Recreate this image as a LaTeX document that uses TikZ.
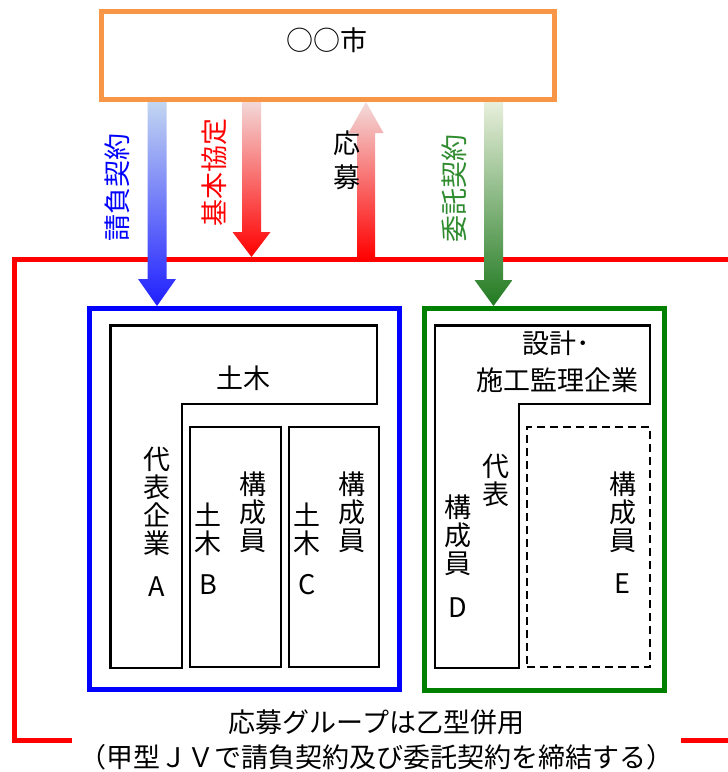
\documentclass[tikz,border=0pt]{standalone}
\usepackage{fontspec}
\setmainfont{Noto Sans CJK JP}
\usetikzlibrary{calc}
\definecolor{orangeC}{HTML}{F79646}
\definecolor{blueC}{HTML}{0000FF}
\definecolor{greenC}{HTML}{008000}
\definecolor{greenT}{HTML}{2E8B2E}
\definecolor{redC}{HTML}{FF0000}
\definecolor{blueTop}{HTML}{C5D9F1}
\definecolor{blueBot}{HTML}{1F1FFF}
\definecolor{redTop}{HTML}{F2DCDB}
\definecolor{greenTop}{HTML}{EBF1DE}
\definecolor{greenBot}{HTML}{217A21}
\newcommand\blkdown[4]{%
  \path[#4] ($(#1)+(-9.5,0)$) -- ($(#2)+(-9.5,-#3)$) -- ($(#2)+(-19,-#3)$) -- (#2)
    -- ($(#2)+(19,-#3)$) -- ($(#2)+(9.5,-#3)$) -- ($(#1)+(9.5,0)$) -- cycle;}
\newcommand\blkup[4]{%
  \path[#4] ($(#1)+(-9,0)$) -- ($(#2)+(-9,#3)$) -- ($(#2)+(-17.5,#3)$) -- (#2)
    -- ($(#2)+(17.5,#3)$) -- ($(#2)+(9,#3)$) -- ($(#1)+(9,0)$) -- cycle;}
\begin{document}
\begin{tikzpicture}[x=1pt,y=-1pt,
  jt/.style={font=\fontsize{27}{28}\selectfont, align=center, inner sep=0pt},
  bigbox/.style={draw, line width=5pt, minimum width=#1, inner sep=0pt, outer sep=0pt},
  member/.style={draw=black, line width=2.6pt, inner sep=0pt, outer sep=0pt, minimum width=#1, minimum height=240},
  lshape/.style={draw=black, line width=2.6pt, line join=miter},
  frame/.style={draw=redC, line width=5pt}]
\useasboundingbox (0,0) rectangle (728,772);
\fill[white] (0,0) rectangle (728,772);

% red group frame
\draw[frame] (72,740) -- (14.5,740) -- (14.5,259.5) -- (740,259.5);
\draw[frame] (681,740) -- (740,740);

% arrows
\coordinate (ukT) at (157,99);   \coordinate (ukH) at (157,306);
\coordinate (kkT) at (251.5,99); \coordinate (kkH) at (251.5,257);
\coordinate (obT) at (366,259.5); \coordinate (obH) at (366,102);
\coordinate (itT) at (493.5,99); \coordinate (itH) at (493.5,306);
\blkdown{ukT}{ukH}{27}{top color=blueTop, bottom color=blueBot}
\blkdown{kkT}{kkH}{25}{top color=redTop, bottom color=redC}
\blkup{obT}{obH}{31}{top color=redTop, bottom color=redC}
\blkdown{itT}{itH}{26}{top color=greenTop, bottom color=greenBot}

% city box
\node[bigbox=453, draw=orangeC, minimum height=88] (city) at (327.5,55) {};
\node[jt] (cityl) at (327,40) {○○市};

% arrow labels
\node[jt, rotate=90, text=blueC] (l1) at (117,187) {請負契約};
\node[jt, rotate=90, text=redC] (l2) at (214,172) {基本協定};
\node[jt] (l3) at (347,160) {応\\[6pt]募};
\node[jt, rotate=90, text=greenT] (l4) at (454,188) {委託契約};

% JV box (blue)
\node[bigbox=310, draw=blueC, minimum height=380.5] (jv) at (244,498.75) {};
\draw[lshape] (110.5,325.5) -- (377,325.5) -- (377,404) -- (182,404) -- (182,668) -- (110.5,668) -- cycle;
\node[member=91] (mB) at (235.5,547) {};
\node[member=90] (mC) at (334,547) {};
\node[jt] (tA) at (243,378) {土木};
\node[jt] (rA) at (157,501.5) {代\\表\\企\\業};
\node[jt] (nA) at (157,587) {A};
\node[jt] (rB) at (253,512) {構\\成\\員};
\node[jt] (tB) at (208,529.5) {土\\木};
\node[jt] (nB) at (208,585) {B};
\node[jt] (rC) at (352,512) {構\\成\\員};
\node[jt] (tC) at (307,529.5) {土\\木};
\node[jt] (nC) at (307,585) {C};

% consultant box (green)
\node[bigbox=240, draw=greenC, minimum height=381.5] (cs) at (544,499.25) {};
\draw[lshape] (435,325.5) -- (650,325.5) -- (650,404) -- (519,404) -- (519,668) -- (435,668) -- cycle;
\node[member=123, dashed, dash pattern=on 8pt off 5pt] (mE) at (588.5,547) {};
\node[jt] (tD1) at (556,343) {設計･};
\node[jt] (tD2) at (557.5,380) {施工監理企業};
\node[jt] (rD) at (496,480.5) {代\\表};
\node[jt] (mD) at (458,535) {構\\成\\員};
\node[jt] (nD) at (458,608) {D};
\node[jt] (rE) at (623,512.5) {構\\成\\員};
\node[jt] (nE) at (622,584) {E};

% caption
\node[jt, font=\fontsize{27}{35}\selectfont] (cap) at (376.5,739.5)
  {応募グループは乙型併用\\（甲型ＪＶで請負契約及び委託契約を締結する）};
\end{tikzpicture}
\end{document}
